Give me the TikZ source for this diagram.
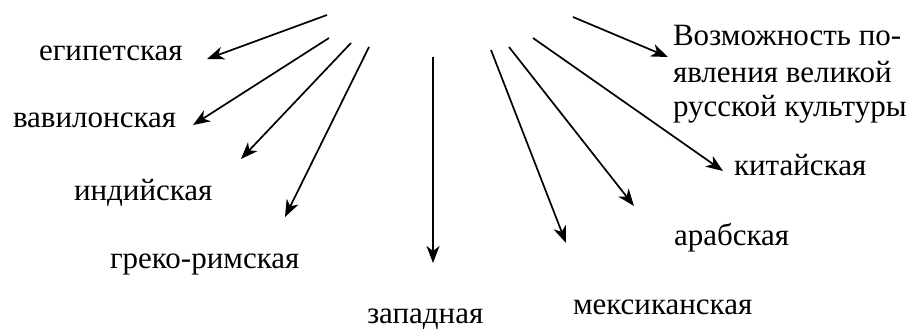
\documentclass[tikz,border=0pt]{standalone}
\usepackage{fontspec}
\setmainfont{Liberation Serif}
\usetikzlibrary{arrows.meta}
\begin{document}
\begin{tikzpicture}[x=1pt,y=-1pt,
  lbl/.style={anchor=base west,inner sep=0pt,outer sep=0pt,font=\fontsize{31}{36}\selectfont},
  arr/.style={line width=1.7pt,-{Stealth[length=17pt,width=13pt,inset=5pt]}}]
\useasboundingbox (0,0) rectangle (916,329);
% labels
\node[lbl] (egy) at (39,60) {египетская};
\node[lbl] (bab) at (13,128) {вавилонская};
\node[lbl] (ind) at (74,200) {индийская};
\node[lbl] (gre) at (110,268) {греко-римская};
\node[lbl] (zap) at (367,323) {западная};
\node[lbl] (mex) at (573,314) {мексиканская};
\node[lbl] (ara) at (674,245) {арабская};
\node[lbl] (chi) at (734,175) {китайская};
\node[lbl] (rus1) at (673,46) {Возможность по-};
\node[lbl] (rus2) at (673,82) {явления великой};
\node[lbl] (rus3) at (673,117) {русской культуры};
% arrow ends
\coordinate (s1) at (327,15);  \coordinate (e1) at (207,59);
\coordinate (s2) at (329,38);  \coordinate (e2) at (193,125);
\coordinate (s3) at (351,43);  \coordinate (e3) at (241,159);
\coordinate (s4) at (369,47);  \coordinate (e4) at (285,217);
\coordinate (s5) at (433,57);  \coordinate (e5) at (433,263);
\coordinate (s6) at (491,50);  \coordinate (e6) at (566,243);
\coordinate (s7) at (509,47);  \coordinate (e7) at (634,206);
\coordinate (s8) at (533,38);  \coordinate (e8) at (723,171);
\coordinate (s9) at (573,17);  \coordinate (e9) at (668,57);
\foreach \i in {1,...,9} {\draw[arr] (s\i) -- (e\i);}
\end{tikzpicture}
\end{document}
